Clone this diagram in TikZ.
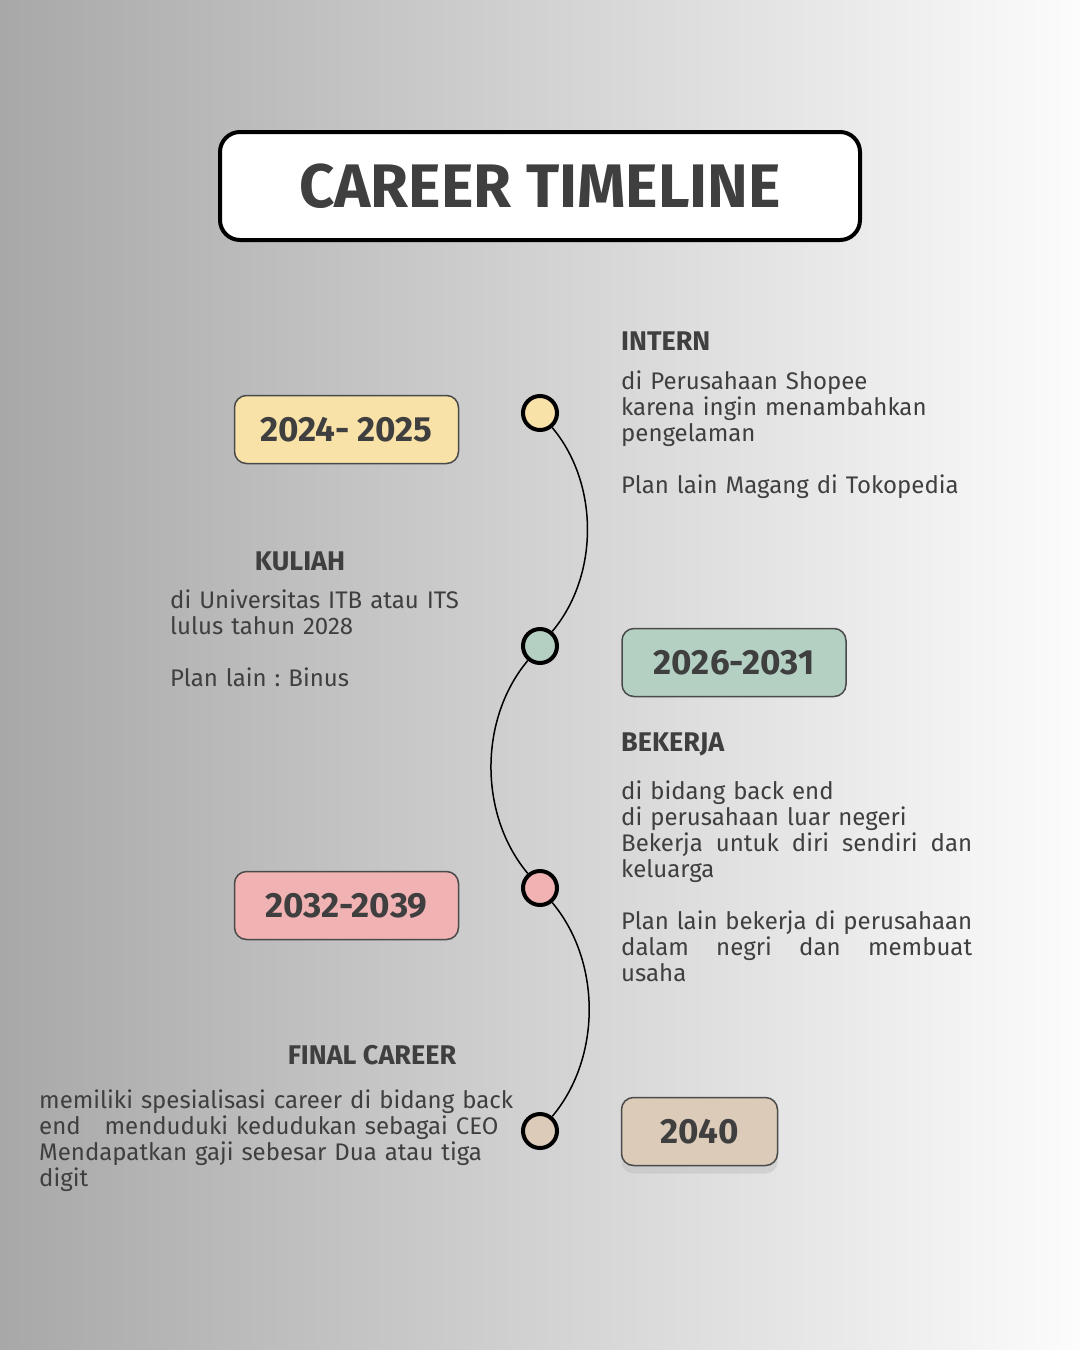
\documentclass[tikz,border=0pt]{standalone}
\usepackage{fontspec}
\setmainfont{Fira Sans}
\usepackage{tikz}
\usetikzlibrary{positioning}
\usetikzlibrary{shadows}

\definecolor{txt}{HTML}{3F3F3F}
\definecolor{boxline}{HTML}{4A4A4A}
\definecolor{bgleft}{HTML}{A8A8A8}
\definecolor{bgright}{HTML}{FCFCFC}
\definecolor{yel}{HTML}{F8E2A8}
\definecolor{grn}{HTML}{B3D0C3}
\definecolor{pnk}{HTML}{F0B2B2}
\definecolor{tan}{HTML}{DCCBB8}

\begin{document}
\begin{tikzpicture}[x=1pt, y=1pt,
    yearbox/.style={draw=boxline, line width=1.5pt, rounded corners=12pt, minimum height=68pt, text=txt, font=\fontsize{35}{38}\selectfont\bfseries},
    dot/.style={circle, draw=black, line width=4pt, minimum size=34pt, inner sep=0pt},
    heading/.style={text=txt, inner sep=0pt, font=\fontsize{27}{28}\selectfont\bfseries},
    body/.style={text=txt, inner sep=0pt, align=left, font=\fontsize{24}{26}\selectfont\frenchspacing},
    link/.style={line width=1.5pt, looseness=0.92}]

% Background
\fill[left color=bgleft, right color=bgright] (0,0) rectangle (1080,-1350);

% Title
\node[draw=black, line width=4pt, fill=white, rounded corners=20pt, minimum width=640pt, minimum height=108pt, text=txt, font=\fontsize{61.5}{64}\selectfont\bfseries] (title) at (540,-186) {CAREER TIMELINE};

% Timeline dots
\foreach \i/\y/\c in {1/413/yel, 2/646/grn, 3/888/pnk, 4/1131/tan} {
    \node[dot, fill=\c] (c\i) at (540,-\y) {};
}

% Curved line between dots
\draw[link] (c1) to[out=-50, in=50] (c2);
\draw[link] (c2) to[out=-130, in=130] (c3);
\draw[link] (c3) to[out=-50, in=50] (c4);

% Year boxes
\node[yearbox, fill=yel, minimum width=224pt] (y1) at (346.5,-429.5) {2024- 2025};
\node[yearbox, fill=grn, minimum width=224pt] (y2) at (734,-662.5) {2026-2031};
\node[yearbox, fill=pnk, minimum width=224pt] (y3) at (346.5,-905.5) {2032-2039};
\node[yearbox, fill=tan, minimum width=156pt, drop shadow={shadow xshift=0pt, shadow yshift=-8pt, fill=black!25}] (y4) at (699.5,-1131.5) {2040};

% Labels
\node[heading, anchor=base west] (intern) at (621,-350) {INTERN};
\node[body, anchor=base west, text width=360pt] (interntxt) at (621,-389) {di Perusahaan Shopee\\ karena ingin menambahkan\\ pengelaman\\[26pt] Plan lain Magang di Tokopedia};

\node[heading, anchor=base] (kuliah) at (300,-570) {KULIAH};
\node[body, anchor=base west, text width=300pt] (kuliahtxt) at (170,-608) {di Universitas ITB atau ITS\\ lulus tahun 2028\\[26pt] Plan lain : Binus};

\node[heading, anchor=base west] (bekerja) at (621,-751) {BEKERJA};
\node[body, anchor=base west, text width=351pt] (bekerjatxt) at (621,-799) {di bidang back end\\ di perusahaan luar negeri\\ \leavevmode\hbox to 351pt{Bekerja\hfill untuk\hfill diri\hfill sendiri\hfill dan}\\ keluarga\\[26pt] \leavevmode\hbox to 351pt{Plan\hfill lain\hfill bekerja\hfill di\hfill perusahaan}\\ \leavevmode\hbox to 351pt{dalam\hfill negri\hfill dan\hfill membuat}\\ usaha};

\node[heading, anchor=base] (final) at (372,-1064) {FINAL CAREER};
\node[body, anchor=base west, text width=480pt] (finaltxt) at (39,-1108) {memiliki spesialisasi career di bidang back\\ end\ \ \ menduduki kedudukan sebagai CEO\\ Mendapatkan gaji sebesar Dua atau tiga\\ digit};

\end{tikzpicture}
\end{document}
